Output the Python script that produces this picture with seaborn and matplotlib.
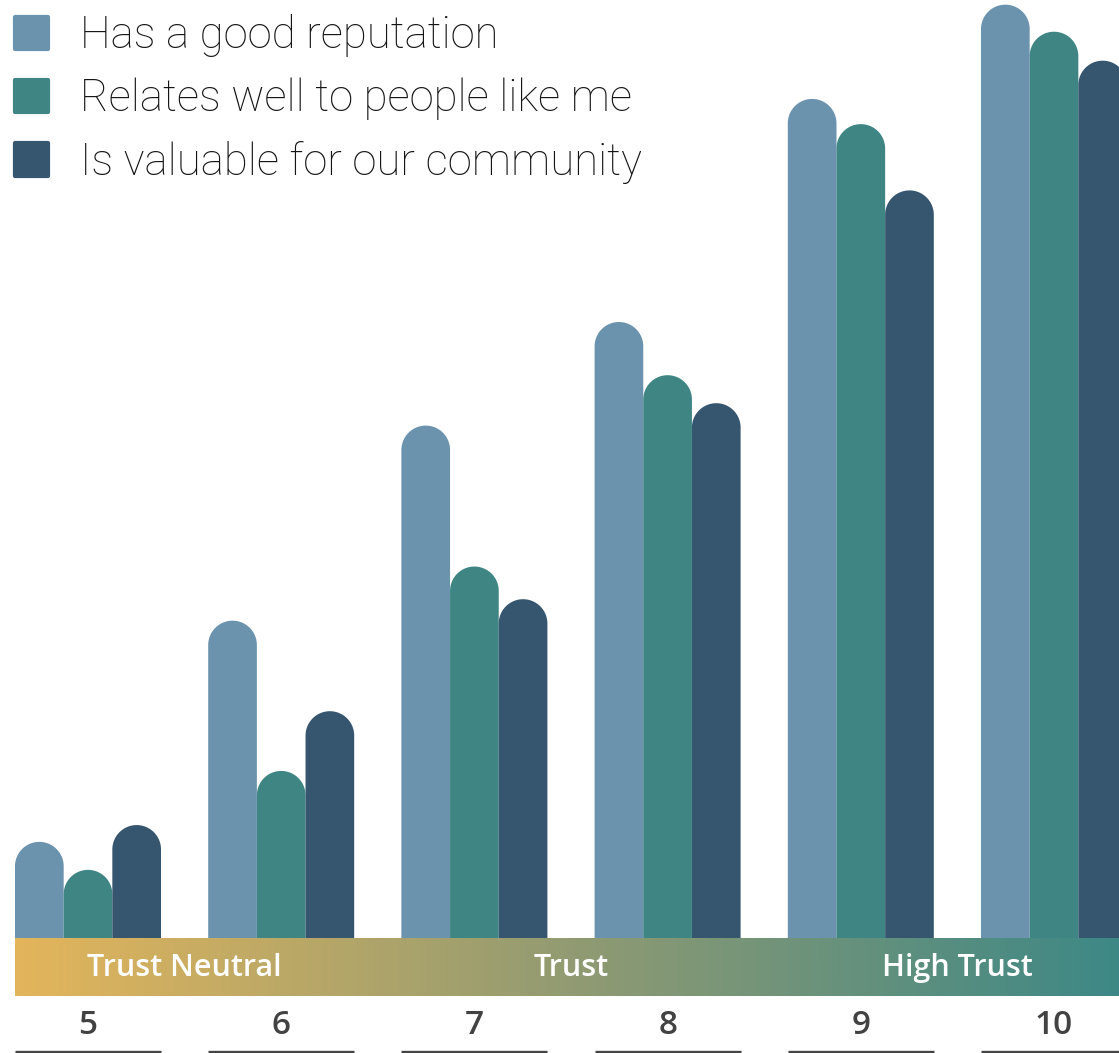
import numpy as np
import pandas as pd
import matplotlib
matplotlib.use("Agg")
import matplotlib.pyplot as plt
import seaborn as sns
from matplotlib.patches import PathPatch
from matplotlib.path import Path
from matplotlib.colors import LinearSegmentedColormap

# Trust score buckets and the share of respondents per statement
scores = ["5", "6", "7", "8", "9", "10"]
reputation = [10.3, 34.0, 54.9, 66.0, 89.9, 100.0]
relates = [7.3, 17.9, 39.8, 60.3, 87.2, 97.1]
valuable = [12.1, 24.3, 36.3, 57.3, 80.1, 94.0]
series = ["Has a good reputation", "Relates well to people like me",
          "Is valuable for our community"]
colors = ["#6B93AE", "#3E8584", "#36566F"]
zones = ["Trust Neutral", "Trust", "High Trust"]
zone_pos = [0.5, 2.5, 4.5]

sns.set_theme(style="white")
LIGHT = ["Roboto", "DejaVu Sans"]
BOLD = ["Open Sans", "DejaVu Sans"]

W, H = 1119, 1053
base = 938          # pixel row of the bar baseline
group_w = 0.7557
step_px = 193.2
x0_px = 88.0
ymax = 100.5

fig = plt.figure(figsize=(W / 100, H / 100), dpi=100)
fig.patch.set_facecolor("white")
ax = fig.add_axes([0, (H - base) / H, 1, base / H])
ax.set_zorder(3)
ax.patch.set_visible(False)

df = pd.DataFrame({
    "score": scores * 3,
    "value": reputation + relates + valuable,
    "series": np.repeat(series, len(scores)),
})
sns.barplot(data=df, x="score", y="value", hue="series", order=scores,
            hue_order=series, palette=colors, saturation=1, width=group_w,
            linewidth=0, ax=ax)

ax.set_xlim(-x0_px / step_px, (W - x0_px) / step_px)
ax.set_ylim(0, ymax)

# redraw each bar as one outline with a half-circle top
px_per_y = base / ymax
theta = np.linspace(np.pi, 0, 60)
for p in list(ax.patches):
    w = p.get_width()
    h = p.get_height()
    if w <= 0 or h <= 0:
        continue
    x = p.get_x()
    rx = w / 2
    ry = rx * step_px / px_per_y
    xc = x + rx
    yc = h - ry
    arc = np.column_stack([xc + rx * np.cos(theta), yc + ry * np.sin(theta)])
    verts = np.vstack([[x, 0], arc, [x + w, 0], [x, 0]])
    codes = [Path.MOVETO] + [Path.LINETO] * (len(verts) - 2) + [Path.CLOSEPOLY]
    ax.add_patch(PathPatch(Path(verts, codes), facecolor=p.get_facecolor(),
                           edgecolor="none", linewidth=0))
    p.set_visible(False)

for s in ax.spines.values():
    s.set_visible(False)
ax.set_yticks([])
ax.set_ylabel("")
ax.set_xlabel("")
ax.tick_params(axis="x", length=0, pad=(1026 - base) * 0.72, labelsize=24,
               labelcolor="#424242")
for lab in ax.get_xticklabels():
    lab.set_verticalalignment("center")
    lab.set_family(BOLD)
    lab.set_fontweight("semibold")

# underline beneath each score
xt = ax.get_xaxis_transform()
for i in range(len(scores)):
    ax.hlines((base - 1051.5) / base, i - group_w / 2, i + group_w / 2,
              transform=xt, colors="#444444", linewidth=2.4, clip_on=False)

# gradient band of trust zones
band = fig.add_axes([15 / W, (H - 996) / H, (W - 15) / W, 58 / H])
cmap = LinearSegmentedColormap.from_list("zone", ["#E3B55B", "#929B72", "#3D8886"])
band.imshow(np.linspace(0, 1, 512)[None, :], cmap=cmap, aspect="auto",
            extent=[0, 1, 0, 1])
band.set_axis_off()
for z, zp in zip(zones, zone_pos):
    ax.text(zp, (base - 968) / base, z, transform=xt, ha="center", va="center",
            color="white", fontsize=22, fontweight="semibold", family=BOLD,
            clip_on=False)

# legend in the top-left corner
sns.move_legend(ax, "upper left", bbox_to_anchor=(15 / W, 1 - 14 / base),
                frameon=False, title=None, fontsize=31.5, handlelength=0.76,
                handleheight=0.76, handletextpad=0.72, labelspacing=0.47,
                borderpad=0, borderaxespad=0)
leg = ax.get_legend()
for t in leg.get_texts():
    t.set_family(LIGHT)
    t.set_fontweight("light")
    t.set_color("#141414")
for hnd in leg.legend_handles:
    hnd.set_edgecolor(hnd.get_facecolor())
    hnd.set_linewidth(3)
    hnd.set_joinstyle("round")

fig.savefig("out.png", dpi=100, facecolor="white")
